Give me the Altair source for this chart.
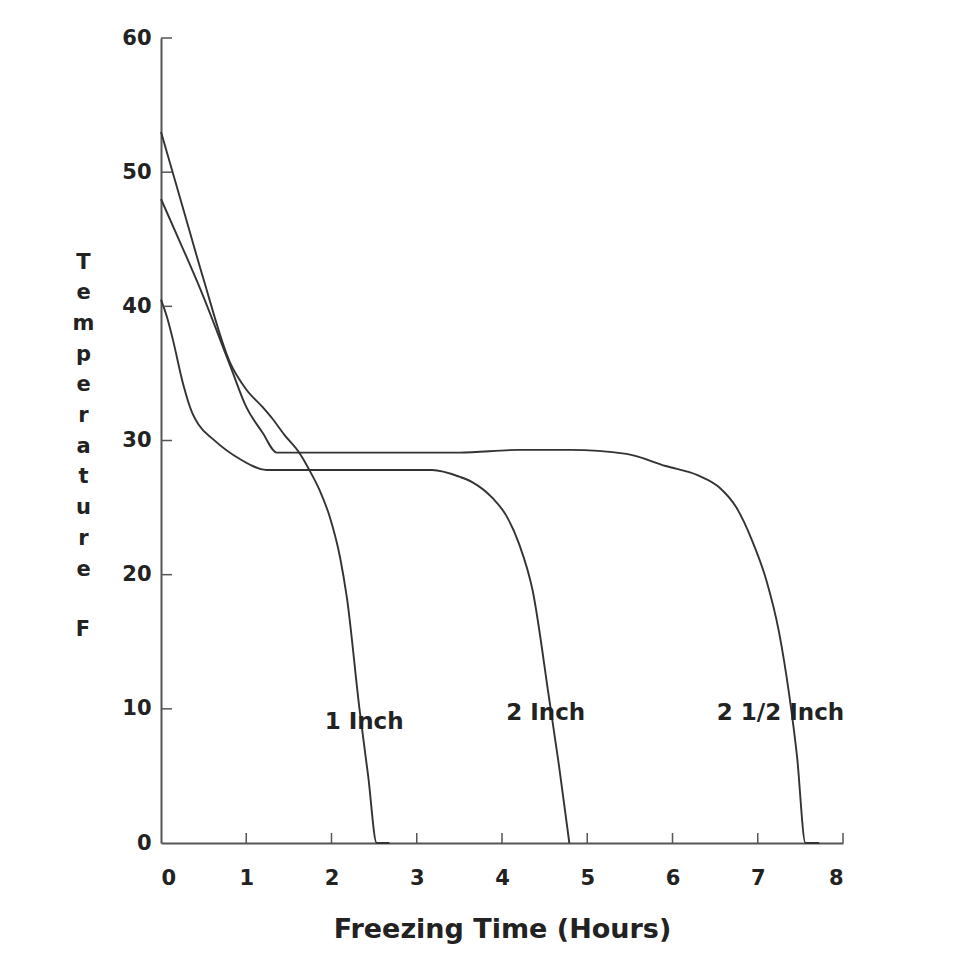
import altair as alt
import pandas as pd

# ---- data ----
t_1in = [0, 0.25, 0.5, 0.81, 1.0, 1.19, 1.31, 1.45, 1.62, 1.74, 1.86, 1.98, 2.1, 2.18, 2.33, 2.43, 2.53, 2.68]
temp_1in = [53.0, 47.5, 42.0, 35.8, 33.8, 32.5, 31.6, 30.4, 29.1, 27.8, 26.3, 24.3, 21.3, 18.3, 9.9, 5.0, 0.0, 0.0]

t_2in = [0, 0.07, 0.14, 0.26, 0.37, 0.44, 0.61, 0.93, 1.24, 2.0, 3.18, 3.5, 3.65, 3.89, 4.05, 4.2, 4.36, 4.55, 4.67, 4.79]
temp_2in = [40.5, 39.2, 37.5, 34.2, 32.0, 31.2, 30.1, 28.6, 27.8, 27.8, 27.8, 27.3, 26.9, 25.7, 24.4, 22.3, 18.8, 10.9, 5.7, 0.0]

t_25in = [0, 0.25, 0.46, 0.81, 1.0, 1.19, 1.36, 2.5, 3.5, 4.2, 4.8, 5.46, 5.92, 6.3, 6.55, 6.75, 6.93, 7.10, 7.25, 7.37, 7.46, 7.56, 7.72]
temp_25in = [48.0, 44.4, 41.3, 35.6, 32.5, 30.6, 29.1, 29.1, 29.1, 29.3, 29.3, 29.0, 28.1, 27.4, 26.5, 25.0, 22.6, 19.6, 15.7, 11.0, 6.5, 0.0, 0.0]

label_text = ["1 Inch", "2 Inch", "2 1/2 Inch"]
label_t = [1.92, 4.05, 6.52]
label_temp = [9.0, 9.7, 9.7]

x_ticks = [0, 1, 2, 3, 4, 5, 6, 7, 8]
y_ticks = [0, 10, 20, 30, 40, 50, 60]

y_title_lines = ["T", "e", "m", "p", "e", "r", "a", "t", "u", "r", "e"]
y_title_unit = "F"

# ---- tables ----
rows = []
for name, ts, vs in [("1 Inch", t_1in, temp_1in), ("2 Inch", t_2in, temp_2in), ("2 1/2 Inch", t_25in, temp_25in)]:
    for t, v in zip(ts, vs):
        rows.append({"size": name, "t": t, "temp": v})
df = pd.DataFrame(rows)
labels_df = pd.DataFrame({"label": label_text, "t": label_t, "temp": label_temp})
xt_df = pd.DataFrame({"v": [v for v in x_ticks if v > 0]})
yt_df = pd.DataFrame({"v": [v for v in y_ticks if v > 0]})
unit_df = pd.DataFrame({"u": [y_title_unit]})

W, H = 682, 805
FONT = "DejaVu Sans"
INK = "#222222"
LINE = "#333333"
AXIS = "#555555"
LINE_H = 30.7

xscale = alt.Scale(domain=[0, 8], nice=False, zero=False)
yscale = alt.Scale(domain=[0, 60], nice=False, zero=False)

x_axis = alt.Axis(
    values=x_ticks, format="d", ticks=False, tickSize=0, grid=False,
    domainColor=AXIS, domainWidth=2,
    labelFont=FONT, labelFontSize=21, labelFontWeight="bold", labelColor=INK, labelPadding=24,
    title="Freezing Time (Hours)", titleFont=FONT, titleFontSize=27, titleFontWeight="bold",
    titleColor=INK, titlePadding=28,
)
y_axis = alt.Axis(
    values=y_ticks, format="d", ticks=False, tickSize=0, grid=False,
    domainColor=AXIS, domainWidth=2,
    labelFont=FONT, labelFontSize=21, labelFontWeight="bold", labelColor=INK, labelPadding=10,
    title=y_title_lines,
    titleAngle=0, titleX=-78, titleY=224, titleAlign="center", titleBaseline="middle",
    titleFont=FONT, titleFontSize=21, titleFontWeight="bold", titleColor=INK, titleLineHeight=LINE_H,
)

lines = alt.Chart(df).mark_line(color=LINE, strokeWidth=1.9, interpolate="monotone").encode(
    x=alt.X("t:Q", scale=xscale, axis=x_axis),
    y=alt.Y("temp:Q", scale=yscale, axis=y_axis),
    detail="size:N",
)

texts = alt.Chart(labels_df).mark_text(
    align="left", baseline="middle", font=FONT, fontSize=23, fontWeight="bold", color=INK
).encode(
    x=alt.X("t:Q", scale=xscale),
    y=alt.Y("temp:Q", scale=yscale),
    text="label:N",
)

unit = alt.Chart(unit_df).mark_text(
    align="center", baseline="middle", font=FONT, fontSize=21, fontWeight="bold", color=INK
).encode(
    x=alt.value(-78),
    y=alt.value(224 + 12 * LINE_H),
    text="u:N",
)

xticks = alt.Chart(xt_df).mark_rule(color=AXIS, strokeWidth=1.5).encode(
    x=alt.X("v:Q", scale=xscale),
    y=alt.value(H),
    y2=alt.value(H - 10),
)
yticks = alt.Chart(yt_df).mark_rule(color=AXIS, strokeWidth=1.5).encode(
    y=alt.Y("v:Q", scale=yscale),
    x=alt.value(0),
    x2=alt.value(11),
)

chart = alt.layer(lines, xticks, yticks, texts, unit).properties(
    width=W, height=H,
    autosize=alt.AutoSizeParams(type="none"),
    padding={"left": 153, "top": 30, "right": 100, "bottom": 110},
    background="white",
).configure_view(stroke=None)

chart.save("out.html", embed_options={"renderer": "svg", "actions": False})
